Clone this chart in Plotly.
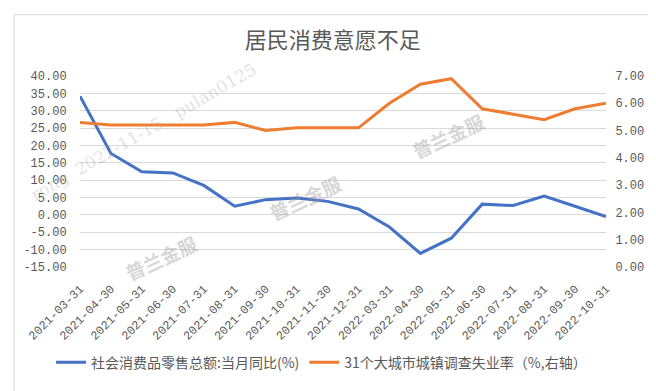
import plotly.graph_objects as go

dates = ["2021-03-31", "2021-04-30", "2021-05-31", "2021-06-30", "2021-07-31",
         "2021-08-31", "2021-09-30", "2021-10-31", "2021-11-30", "2021-12-31",
         "2022-03-31", "2022-04-30", "2022-05-31", "2022-06-30", "2022-07-31",
         "2022-08-31", "2022-09-30", "2022-10-31"]
retail_yoy = [34.2, 17.7, 12.4, 12.1, 8.5, 2.5, 4.4, 4.9, 3.9, 1.7,
              -3.5, -11.1, -6.7, 3.1, 2.7, 5.4, 2.5, -0.5]
unemployment = [5.3, 5.2, 5.2, 5.2, 5.2, 5.3, 5.0, 5.1, 5.1, 5.1,
                6.0, 6.7, 6.9, 5.8, 5.6, 5.4, 5.8, 6.0]
left_ticks = [-15, -10, -5, 0, 5, 10, 15, 20, 25, 30, 35, 40]
left_ticktext = ["-15.00", "-10.00", "-5.00", "0.00", "5.00", "10.00", "15.00",
                 "20.00", "25.00", "30.00", "35.00", "40.00"]
right_ticks = [0, 1, 2, 3, 4, 5, 6, 7]
right_ticktext = ["0.00", "1.00", "2.00", "3.00", "4.00", "5.00", "6.00", "7.00"]

name1 = "社会消费品零售总额:当月同比(%)"
name2 = "31个大城市城镇调查失业率（%,右轴）"
title = "居民消费意愿不足"

TICKFONT = dict(family="Liberation Mono, DejaVu Sans Mono, monospace", size=12, color="#595959")
CJK = "Noto Sans CJK SC, sans-serif"
CLEAR = "rgba(0,0,0,0)"

fig = go.Figure()
fig.add_trace(go.Scatter(x=dates, y=retail_yoy, name=name1, mode="lines",
                         line=dict(color="#4472C4", width=3)))
fig.add_trace(go.Scatter(x=dates, y=unemployment, name=name2, mode="lines",
                         line=dict(color="#ED7D31", width=3), yaxis="y2"))

# watermarks
wm = dict(showarrow=False, xanchor="center", yanchor="middle",
          font=dict(family=CJK, size=19, color="rgba(150,150,150,0.40)", weight="bold"),
          textangle=-25, xref="paper", yref="paper")
fig.add_annotation(text="普兰金服", x=0.154, y=0.049, **wm)
fig.add_annotation(text="普兰金服", x=0.428, y=0.363, **wm)
fig.add_annotation(text="普兰金服", x=0.700, y=0.687, **wm)
wm2 = dict(showarrow=False, xanchor="center", yanchor="middle", textangle=-30,
           xref="paper", yref="paper",
           font=dict(family="DejaVu Serif", size=17, color="rgba(170,170,170,0.35)"))
fig.add_annotation(text="rong  2022-11-15   pulan0125", x=0.12, y=0.708, **wm2)

fig.update_layout(
    width=656, height=391,
    margin=dict(l=72, r=58, t=68, b=132, autoexpand=False),
    paper_bgcolor="white", plot_bgcolor="white",
    title=dict(text=title, x=0.495, xanchor="center", y=1 - 32 / 391, yanchor="middle",
               yref="container", font=dict(family=CJK, size=22, color="#595959")),
    xaxis=dict(type="category", tickangle=-45, tickfont=TICKFONT, showgrid=False,
               showline=False, ticks="outside", ticklen=9, tickcolor=CLEAR,
               zeroline=False, automargin=False),
    yaxis=dict(range=[-15, 40], tickvals=left_ticks, ticktext=left_ticktext,
               tickfont=TICKFONT, showgrid=True, gridcolor="#d9d9d9", gridwidth=1,
               zeroline=False, showline=False, ticks="outside", ticklen=10,
               tickcolor=CLEAR, automargin=False),
    yaxis2=dict(range=[0, 7], tickvals=right_ticks, ticktext=right_ticktext,
                tickfont=TICKFONT, overlaying="y", side="right", showgrid=False,
                zeroline=False, showline=False, ticks="outside", ticklen=6,
                tickcolor=CLEAR, automargin=False),
    legend=dict(orientation="h", x=-0.055, xanchor="left",
                y=-0.501, yanchor="middle",
                font=dict(family=CJK, size=14, color="#595959"),
                itemwidth=30, tracegroupgap=0),
    showlegend=True,
    shapes=[dict(type="rect", xref="paper", yref="paper", x0=-0.1255, x1=1.095,
                 y0=-0.653, y1=1.321, line=dict(color="#d9d9d9", width=1), layer="below")],
)

fig.write_html("out.html")
